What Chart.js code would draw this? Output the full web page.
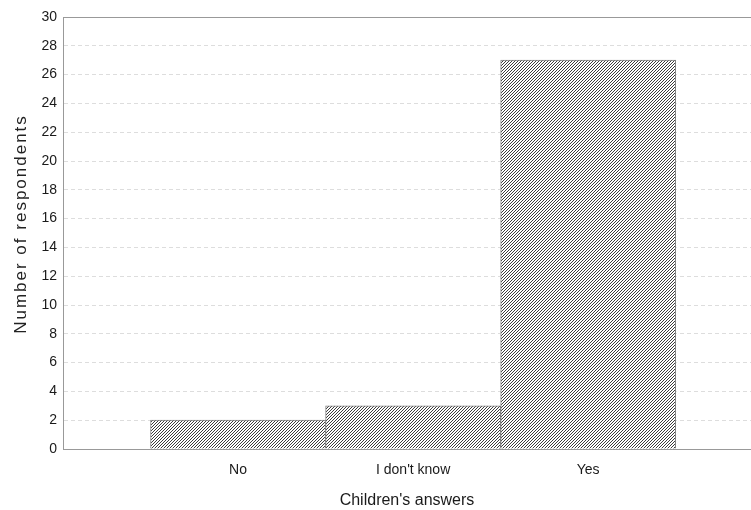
<!DOCTYPE html>
<html lang="en">

<head>
    <meta charset="UTF-8">
    <title>Children's answers</title>
    <script src="https://cdn.jsdelivr.net/npm/chart.js"></script>
    <style>
        html, body {
            margin: 0;
            padding: 0;
            background: #fff;
        }

        #answersChart {
            display: block;
        }
    </style>
</head>

<body>
    <canvas id="answersChart" width="751" height="510"></canvas>

    <script>
        // data
        const answers = ['No', "I don't know", 'Yes'];
        const respondents = [2, 3, 27];
        const yTicks = [0, 2, 4, 6, 8, 10, 12, 14, 16, 18, 20, 22, 24, 26, 28, 30];

        const FONT = "'Liberation Sans Narrow', 'Arial Narrow', 'Liberation Sans', sans-serif";

        // diagonal hatch for the bars, one dark pixel per row in a 3px tile
        function makeHatch() {
            const c = document.createElement('canvas');
            c.width = 3;
            c.height = 3;
            const g = c.getContext('2d');
            g.fillStyle = '#fff';
            g.fillRect(0, 0, 3, 3);
            g.fillStyle = '#3c3c3c';
            g.fillRect(0, 2, 1, 1);
            g.fillRect(1, 1, 1, 1);
            g.fillRect(2, 0, 1, 1);
            return g.createPattern(c, 'repeat');
        }

        const ctx = document.getElementById('answersChart').getContext('2d');

        // top frame line and spaced-out y title
        const framePlugin = {
            id: 'frame',
            afterDraw(chart) {
                const { ctx, chartArea } = chart;
                ctx.save();
                ctx.strokeStyle = '#999';
                ctx.lineWidth = 1;
                ctx.beginPath();
                ctx.moveTo(chartArea.left, chartArea.top + 0.5);
                ctx.lineTo(chartArea.right, chartArea.top + 0.5);
                ctx.stroke();

                ctx.translate(21, (chartArea.top + chartArea.bottom) / 2 - 9);
                ctx.rotate(-Math.PI / 2);
                ctx.font = '17px ' + FONT;
                ctx.letterSpacing = '2px';
                ctx.fillStyle = '#222';
                ctx.textAlign = 'center';
                ctx.textBaseline = 'middle';
                ctx.fillText('Number of respondents', 0, 0);
                ctx.restore();
            }
        };

        new Chart(ctx, {
            type: 'bar',
            data: {
                datasets: [{
                    data: respondents.map((v, i) => ({ x: i + 1, y: v })),
                    backgroundColor: makeHatch(),
                    borderColor: '#808080',
                    borderWidth: 1,
                    barPercentage: 1,
                    categoryPercentage: 1
                }]
            },
            options: {
                responsive: false,
                animation: false,
                layout: {
                    padding: { left: 0, right: 0, top: 17, bottom: 0 }
                },
                plugins: {
                    legend: { display: false },
                    tooltip: { enabled: false }
                },
                scales: {
                    x: {
                        type: 'linear',
                        offset: false,
                        min: 0,
                        max: 3.93,
                        afterBuildTicks: (scale) => {
                            scale.ticks = answers.map((a, i) => ({ value: i + 1 }));
                        },
                        afterFit: (scale) => { scale.height = 61; },
                        grid: { display: false, drawTicks: false },
                        border: { color: '#999', width: 1 },
                        ticks: {
                            padding: 13,
                            color: '#1a1a1a',
                            font: { family: FONT, size: 14 },
                            callback: (v) => answers[v - 1]
                        },
                        title: {
                            display: true,
                            text: "Children's answers",
                            color: '#1a1a1a',
                            font: { family: FONT, size: 16 },
                            padding: { top: 10, bottom: 0 }
                        }
                    },
                    y: {
                        min: 0,
                        max: 30,
                        afterBuildTicks: (scale) => {
                            scale.ticks = yTicks.map(v => ({ value: v }));
                        },
                        afterFit: (scale) => { scale.width = 63; },
                        grid: {
                            color: '#ddd',
                            drawTicks: false
                        },
                        border: { color: '#999', width: 1, dash: [4, 3] },
                        ticks: {
                            padding: 6,
                            color: '#1a1a1a',
                            font: { family: FONT, size: 14 }
                        }
                    }
                }
            },
            plugins: [framePlugin]
        });
    </script>
</body>

</html>
